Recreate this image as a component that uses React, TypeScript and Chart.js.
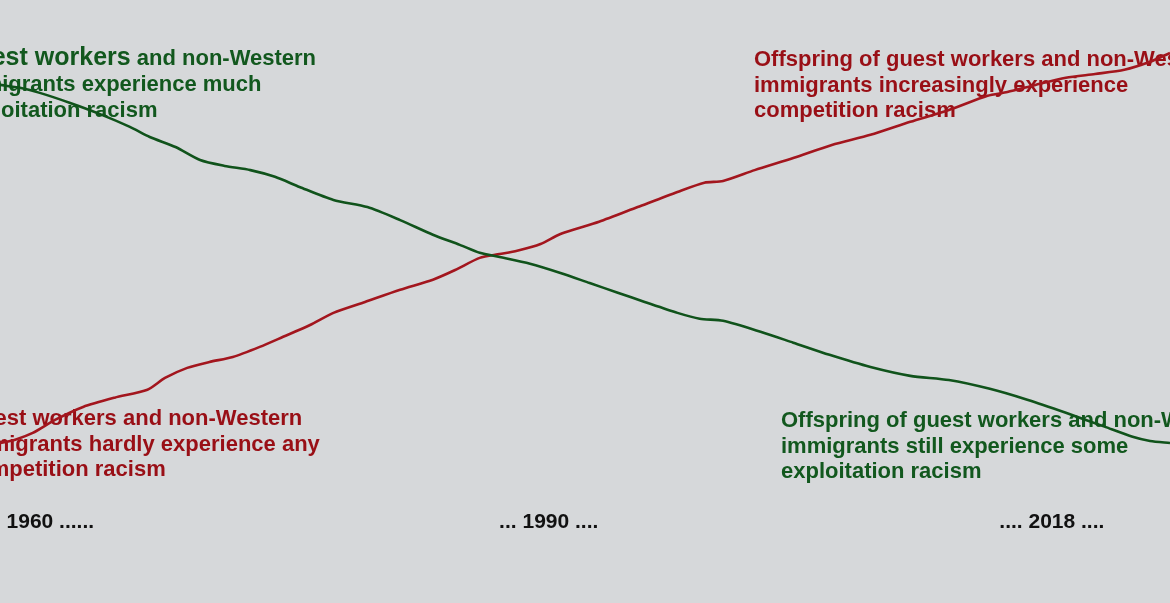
import React, { useEffect, useRef } from "react";
import { Chart, registerables } from "chart.js";

Chart.register(...registerables);

// ---- data (abstract time index 0..100, level 0..100) ----
const exploitationX = [0, 1.7, 3.4, 6.0, 8.5, 11.1, 12.8, 15.0, 17.1, 19.2, 21.4, 23.5, 25.6, 28.5, 31.4, 34.2, 37.0, 39.3, 41.0, 42.7, 45.3, 47.9, 50.4, 52.8, 55.1, 57.9, 59.8, 61.8, 65.0, 67.8, 70.9, 74.4, 77.8, 81.1, 84.6, 87.8, 91.1, 94.4, 96.8, 98.3, 100];
const exploitationY = [89.3, 88.6, 87.4, 85.0, 82.4, 79.3, 76.9, 74.5, 71.4, 70.0, 69.0, 67.4, 65.0, 61.9, 60.2, 57.1, 53.6, 51.2, 49.3, 48.3, 46.7, 44.5, 42.1, 39.8, 37.6, 35.0, 33.6, 33.1, 30.5, 27.9, 25.0, 22.1, 20.0, 19.0, 16.9, 14.3, 11.2, 7.9, 5.5, 4.5, 4.0];

const competitionX = [0, 1.3, 2.8, 4.7, 7.1, 9.8, 12.6, 14.1, 16.0, 17.9, 19.9, 22.2, 24.2, 26.5, 28.5, 31.2, 34.2, 37.0, 38.9, 41.0, 42.7, 44.2, 46.2, 47.9, 51.2, 54.5, 57.9, 60.2, 61.8, 64.5, 67.8, 71.1, 74.4, 77.8, 81.1, 84.4, 86.1, 88.5, 91.1, 93.6, 96.1, 98.3, 100];
const competitionY = [4.0, 4.8, 6.4, 9.5, 12.6, 14.8, 16.7, 19.5, 21.9, 23.3, 24.5, 26.9, 29.3, 32.1, 35.0, 37.6, 40.5, 42.9, 45.2, 48.1, 49.0, 49.8, 51.4, 53.8, 56.7, 60.2, 63.8, 66.0, 66.4, 69.0, 71.9, 75.0, 77.4, 80.5, 83.3, 86.7, 87.6, 89.3, 91.0, 91.9, 92.9, 94.8, 96.9];

const yearTickPositions = [4.3, 46.9, 89.9];
const yearTickLabels = ["1960 ......", "... 1990 ....", ".... 2018 ...."];

const exploitationThenText = ["Guest workers and non-Western", "immigrants experience much", "exploitation racism"];
const competitionThenText = ["Guest workers and non-Western", "immigrants hardly experience any", "competition racism"];
const competitionNowText = ["Offspring of guest workers and non-Western", "immigrants increasingly experience", "competition racism"];
const exploitationNowText = ["Offspring of guest workers and non-Western", "immigrants still experience some", "exploitation racism"];
const emphasisPrefix = "Guest workers";

// ---- styles ----
const BG = "#d6d8da";
const GREEN_LINE = "#10531b";
const RED_LINE = "#a3161e";
const GREEN_TEXT = "#12581e";
const RED_TEXT = "#990f16";
const FONT_FAMILY = "'Liberation Sans', Arial, sans-serif";

const toPoints = (xs: number[], ys: number[]) => xs.map((x, i) => ({ x, y: ys[i] }));

const backgroundPlugin = {
  id: "bg",
  beforeDraw(chart: any) {
    const { ctx, width, height } = chart;
    ctx.save();
    ctx.fillStyle = BG;
    ctx.fillRect(0, 0, width, height);
    ctx.restore();
  },
};

type Block = { lines: string[]; x: number; firstX?: number; baselines: number[]; color: string; emphasis?: boolean };

const blocks: Block[] = [
  { lines: exploitationThenText, x: -43, firstX: -43, baselines: [65, 91, 117], color: GREEN_TEXT, emphasis: true },
  { lines: competitionThenText, x: -36, baselines: [425, 451, 476], color: RED_TEXT },
  { lines: competitionNowText, x: 754, baselines: [66, 92, 117], color: RED_TEXT },
  { lines: exploitationNowText, x: 781, baselines: [427, 453, 478], color: GREEN_TEXT },
];

const annotationPlugin = {
  id: "annotations",
  beforeDatasetsDraw(chart: any) {
    const ctx = chart.ctx as CanvasRenderingContext2D;
    ctx.save();
    ctx.textBaseline = "alphabetic";
    ctx.textAlign = "left";
    blocks.forEach((b) => {
      ctx.fillStyle = b.color;
      b.lines.forEach((line, i) => {
        const y = b.baselines[i];
        if (i === 0 && b.emphasis && line.startsWith(emphasisPrefix)) {
          const x0 = b.firstX ?? b.x;
          ctx.font = `bold 25px ${FONT_FAMILY}`;
          ctx.fillText(emphasisPrefix, x0, y);
          const w = ctx.measureText(emphasisPrefix).width;
          ctx.font = `bold 22px ${FONT_FAMILY}`;
          ctx.fillText(line.slice(emphasisPrefix.length), x0 + w, y);
        } else {
          ctx.font = `bold 22px ${FONT_FAMILY}`;
          ctx.fillText(line, i === 0 && b.firstX !== undefined ? b.firstX : b.x, y);
        }
      });
    });
    ctx.restore();
  },
};

export default function App() {
  const canvasRef = useRef<HTMLCanvasElement | null>(null);

  useEffect(() => {
    document.body.style.margin = "0";
    document.body.style.background = BG;
    const canvas = canvasRef.current;
    if (!canvas) return;
    const chart = new Chart(canvas, {
      type: "line",
      data: {
        datasets: [
          {
            label: "Exploitation racism",
            data: toPoints(exploitationX, exploitationY),
            borderColor: GREEN_LINE,
            borderWidth: 2.6,
            pointRadius: 0,
            tension: 0.25,
            fill: false,
          },
          {
            label: "Competition racism",
            data: toPoints(competitionX, competitionY),
            borderColor: RED_LINE,
            borderWidth: 2.6,
            pointRadius: 0,
            tension: 0.25,
            fill: false,
          },
        ],
      },
      options: {
        animation: false,
        responsive: false,
        maintainAspectRatio: false,
        layout: { padding: { top: 0, left: 0, right: 0, bottom: 68 } },
        plugins: {
          legend: { display: false },
          tooltip: { enabled: false },
          title: { display: false },
        },
        scales: {
          x: {
            type: "linear",
            min: 0,
            max: 100,
            position: "bottom",
            grid: { display: false, drawTicks: false },
            border: { display: false },
            afterBuildTicks: (scale: any) => {
              scale.ticks = yearTickPositions.map((v) => ({ value: v }));
            },
            ticks: {
              autoSkip: false,
              maxRotation: 0,
              padding: 0,
              color: "#111111",
              font: { family: FONT_FAMILY, size: 21, weight: "bold" },
              callback: (_v: any, i: number) => yearTickLabels[i],
            },
          },
          y: {
            type: "linear",
            display: false,
            min: -11.905,
            max: 109.52,
          },
        },
      },
      plugins: [backgroundPlugin, annotationPlugin],
    } as any);
    return () => chart.destroy();
  }, []);

  return (
    <div style={{ position: "fixed", left: 0, top: 0, width: 1170, height: 603, background: BG }}>
      <canvas ref={canvasRef} width={1170} height={603} style={{ display: "block" }} />
    </div>
  );
}
